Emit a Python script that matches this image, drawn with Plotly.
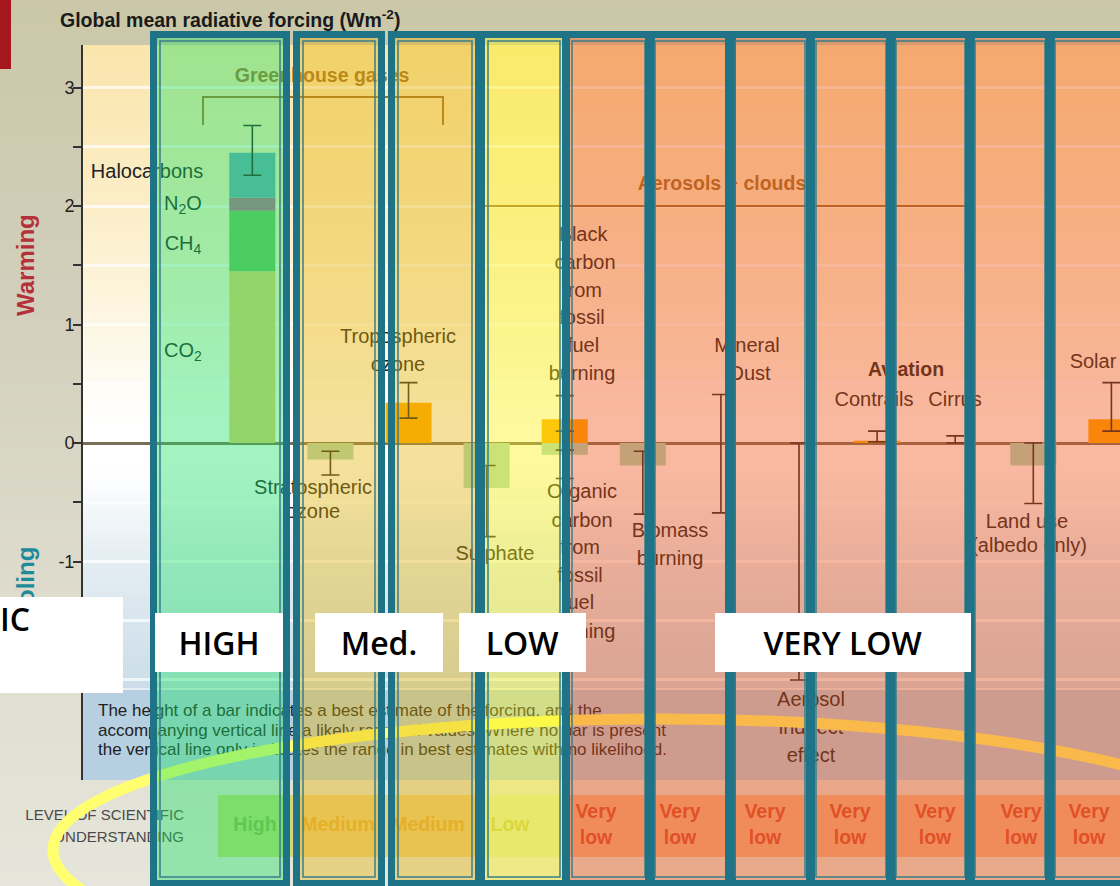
import plotly.graph_objects as go

W, H = 1120, 886

# ---------------- data ----------------
categories = ["Greenhouse gases", "Stratospheric ozone", "Tropospheric ozone", "Sulphate",
              "Fossil fuel carbon", "Biomass burning", "Mineral dust",
              "Aerosol indirect effect", "Contrails", "Aviation-induced cirrus",
              "Land use (albedo)", "Solar"]

ghg_components = ["CO2", "CH4", "N2O", "Halocarbons"]
ghg_values = [1.45, 0.51, 0.11, 0.38]

warming_categories = ["Tropospheric ozone", "Fossil fuel carbon", "Contrails", "Solar"]
warming_values = [0.34, 0.20, 0.02, 0.20]

cooling_categories = ["Stratospheric ozone", "Sulphate", "Fossil fuel carbon",
                      "Biomass burning", "Land use (albedo)"]
cooling_values = [-0.14, -0.38, -0.10, -0.19, -0.19]

range_categories = ["Greenhouse gases", "Stratospheric ozone", "Tropospheric ozone", "Sulphate",
                    "Fossil fuel carbon", "Fossil fuel carbon", "Biomass burning", "Mineral dust",
                    "Aerosol indirect effect", "Contrails", "Aviation-induced cirrus",
                    "Land use (albedo)", "Solar"]
range_low = [2.26, -0.27, 0.21, -0.79, 0.10, -0.30, -0.60, -0.59, -2.00, 0.01, 0.00, -0.51, 0.10]
range_high = [2.68, -0.07, 0.51, -0.19, 0.40, -0.06, -0.07, 0.41, 0.00, 0.10, 0.06, 0.00, 0.51]

losu_labels = ["High", "Medium", "Medium", "Low", "Very<br>low", "Very<br>low", "Very<br>low",
               "Very<br>low", "Very<br>low", "Very<br>low", "Very<br>low"]

y_tick_values = [-2, -1, 0, 1, 2, 3]
y_tick_labels = ["-2", "-1", "0", "1", "2", "3"]
y_minor_values = [-1.5, -0.5, 0.5, 1.5, 2.5]

# ---------------- styling helpers ----------------
SANS = "Liberation Sans, Arial, sans-serif"
BOX_FONT = "Open Sans, Noto Sans, sans-serif"


def X(px):
    return px / W


def Y(py):
    return 1 - py / H


def mix(c0, c1, t):
    return tuple(round(a + (b - a) * t) for a, b in zip(c0, c1))


def gradient_bands(x0, x1, stops, step=5):
    out = []
    for (ya, ca), (yb, cb) in zip(stops[:-1], stops[1:]):
        n = max(1, int((yb - ya) / step))
        for k in range(n):
            t = (k + 0.5) / n
            p0 = ya + (yb - ya) * k / n
            p1 = ya + (yb - ya) * (k + 1) / n + 0.8
            out.append(dict(type="rect", xref="paper", yref="paper",
                            x0=X(x0), x1=X(x1), y0=Y(p1), y1=Y(p0),
                            fillcolor="rgb(%d,%d,%d)" % mix(ca, cb, t),
                            line=dict(width=0), layer="below"))
    return out


def rect(x0, x1, y0, y1, fill, layer="below", line=None):
    return dict(type="rect", xref="paper", yref="paper", x0=X(x0), x1=X(x1), y0=Y(y1), y1=Y(y0),
                fillcolor=fill, line=line or dict(width=0), layer=layer)


def hline(x0, x1, y, color, width, layer="above"):
    return dict(type="line", xref="paper", yref="paper", x0=X(x0), x1=X(x1), y0=Y(y), y1=Y(y),
                line=dict(color=color, width=width), layer=layer)


def vline(x, y0, y1, color, width, layer="above"):
    return dict(type="line", xref="paper", yref="paper", x0=X(x), x1=X(x), y0=Y(y0), y1=Y(y1),
                line=dict(color=color, width=width), layer=layer)


shapes = []
# outer beige page
shapes += gradient_bands(0, W, [(0, (203, 199, 168)), (300, (210, 207, 188)),
                                (600, (222, 220, 205)), (886, (230, 229, 219))], step=8)
# chart panel
shapes += gradient_bands(83, W, [(45, (250, 229, 172)), (200, (251, 237, 198)),
                                 (330, (253, 247, 228)), (425, (255, 255, 255)),
                                 (470, (255, 255, 255)), (560, (228, 237, 243)),
                                 (688, (203, 221, 233))], step=5)
shapes.append(rect(83, W, 688, 780, "rgb(182,207,225)"))
shapes.append(hline(83, W, 689, "rgba(235,242,246,0.9)", 2, layer="below"))
# level of scientific understanding band
losu_cells = [(218, 292, "#c0dc75"), (292, 387, "#eacf83"), (387, 480, "#eacf83"),
              (480, 566, "#dbe2af"), (566, W, "#f0b489")]
for a, b, c in losu_cells:
    shapes.append(rect(a, b, 795, 857, c))
# red slide marker
shapes.append(rect(0, 11, 0, 69, "#a5161f", layer="above"))

# group brackets
GROUP = "#a0702a"
shapes.append(hline(203, 443, 97, GROUP, 2))
shapes.append(vline(203, 96, 125, GROUP, 2))
shapes.append(vline(443, 96, 125, GROUP, 2))
shapes.append(hline(480, 966, 206, GROUP, 2))

# yellow ellipse highlight
shapes.append(dict(type="circle", xref="paper", yref="paper", x0=X(53), x1=X(1267),
                   y0=Y(981), y1=Y(719), line=dict(color="#ffff70", width=11),
                   fillcolor="rgba(0,0,0,0)", layer="above"))

# translucent understanding columns
GREEN = "rgba(24,225,100,0.40)"
MED = "rgba(229,178,0,0.39)"
LOWC = "rgba(250,240,20,0.42)"
VL = "rgba(240,80,20,0.40)"
columns = [(150, 290, GREEN), (293, 385, MED), (388, 482, MED), (478, 570, LOWC),
           (562, 655, VL), (645, 736, VL), (725, 815, VL), (806, 896, VL),
           (886, 975, VL), (965, 1055, VL), (1045, 1135, VL)]
CT, CB = 31, 887
for a, b, c in columns:
    shapes.append(rect(a, b, CT, CB, c, layer="above"))
for a, b, c in columns:
    shapes.append(dict(type="rect", xref="paper", yref="paper",
                       x0=X(a + 3.5), x1=X(b - 3.5), y0=Y(CB - 3.5), y1=Y(CT + 3.5),
                       line=dict(color="#1e7387", width=7), fillcolor="rgba(0,0,0,0)", layer="above"))
    shapes.append(dict(type="rect", xref="paper", yref="paper",
                       x0=X(a + 10), x1=X(b - 10), y0=Y(CB - 10), y1=Y(CT + 10),
                       line=dict(color="#3a7d8a", width=1.5), fillcolor="rgba(0,0,0,0)", layer="above"))

# ---------------- traces ----------------
fig = go.Figure()

ghg_colors = ["#e5cd70", "#6fc062", "#b5678e", "#68a7b7"]
for name, val, col in zip(ghg_components, ghg_values, ghg_colors):
    fig.add_trace(go.Bar(x=[categories[0]], y=[val], name=name,
                         marker=dict(color=col, line=dict(width=0)),
                         showlegend=False, hoverinfo="skip"))
fig.add_trace(go.Bar(x=warming_categories, y=warming_values, name="warming",
                     marker=dict(color="#ffab05", line=dict(width=0)), showlegend=False))
fig.add_trace(go.Bar(x=cooling_categories, y=cooling_values, name="cooling",
                     marker=dict(color="#a9d8bb", line=dict(width=0)), showlegend=False))
fig.add_trace(go.Scatter(
    x=range_categories, y=range_low, mode="markers",
    marker=dict(size=2, color="rgba(0,0,0,0)"),
    error_y=dict(type="data", symmetric=False,
                 array=[h - l for h, l in zip(range_high, range_low)],
                 arrayminus=[0] * len(range_low),
                 color="#262626", thickness=1.6, width=9),
    showlegend=False, hoverinfo="skip"))

# ---------------- text (drawn beneath the translucent columns) ----------------
label_text = ["Halocarbons", "N<sub>2</sub>O", "CH<sub>4</sub>", "CO<sub>2</sub>",
              "Tropospheric", "ozone", "Stratospheric", "ozone", "Sulphate",
              "Black", "carbon", "from", "fossil", "fuel", "burning",
              "Organic", "carbon", "from", "fossil", "fuel", "burning",
              "Biomass", "burning", "Mineral", "Dust", "Contrails", "Cirrus",
              "Land use", "(albedo only)", "Solar", "Aerosol", "indirect", "effect"]
label_x = [147, 183, 183, 183, 398, 398, 313, 313, 495,
           583, 585, 582, 582, 583, 582,
           582, 582, 580, 580, 578, 582,
           670, 670, 747, 750, 874, 955,
           1027, 1029, 1093, 811, 811, 811]
label_y = [173, 205, 245, 352, 338, 366, 489, 513, 555,
           236, 264, 292, 319, 347, 375,
           493, 522, 549, 577, 604, 633,
           532, 560, 347, 375, 401, 401,
           523, 547, 363, 701, 729, 757]

bold_text = ["Greenhouse gases", "Aerosols + clouds", "Aviation"]
bold_x = [322, 722, 906]
bold_y = [77, 185, 371]
bold_colors = [GROUP, GROUP, "#222222"]

caption_text = ["The height of a bar indicates a best estimate of the forcing, and the",
                "accompanying vertical line a likely range of values. Where no bar is present",
                "the vertical line only indicates the range in best estimates with no likelihood."]
caption_x = [98, 98, 98]
caption_y = [712, 732, 751]

losu_title = ["LEVEL OF SCIENTIFIC", "UNDERSTANDING"]
losu_title_x = [184, 184]
losu_title_y = [816, 838]

losu_x = [255, 338, 428, 510, 596, 680, 765, 850, 935, 1021, 1089]
losu_y = [826, 826, 826, 826, 826, 826, 826, 826, 826, 826, 826]
losu_colors = ["#8eb743", "#e7ae42", "#e7ae42", "#c6c559"] + ["#d75035"] * 7


def text_trace(texts, xs, ys, size, colors, weight=400, pos="middle center"):
    return go.Scatter(x=xs, y=ys, text=texts, mode="text", textposition=pos,
                      textfont=dict(family=SANS, size=size, color=colors, weight=weight),
                      xaxis="x2", yaxis="y2", showlegend=False, hoverinfo="skip",
                      cliponaxis=False)


fig.add_trace(text_trace(label_text, label_x, label_y, 20, "#222222"))
fig.add_trace(text_trace(bold_text, bold_x, bold_y, 19.5, bold_colors, weight=700))
fig.add_trace(text_trace(caption_text, caption_x, caption_y, 17, "#222222", pos="middle right"))
fig.add_trace(text_trace(losu_title, losu_title_x, losu_title_y, 15, "#4a4a4a", pos="middle left"))
fig.add_trace(text_trace(losu_labels, losu_x, losu_y, 19.5, losu_colors, weight=700))

# ---------------- annotations ----------------
annotations = [
    dict(x=X(58), y=Y(19), xref="paper", yref="paper", xanchor="left", yanchor="middle",
         text="Global mean radiative forcing (Wm<sup>-2</sup>)", showarrow=False,
         font=dict(family=SANS, size=19.5, color="#1a1a1a", weight=700)),
    dict(x=X(25), y=Y(265), xref="paper", yref="paper", xanchor="center", yanchor="middle",
         text="Warming", textangle=-90,
         showarrow=False, font=dict(family=SANS, size=24, color="#b4303a", weight=700)),
    dict(x=X(25), y=Y(592), xref="paper", yref="paper", xanchor="center", yanchor="middle",
         text="Cooling", textangle=-90,
         showarrow=False, font=dict(family=SANS, size=24, color="#1d8b9b", weight=700)),
]
boxes = [("IC", 0, 123, 597, 693), ("HIGH", 155, 283, 613, 672), ("Med.", 315, 443, 613, 672),
         ("LOW", 459, 586, 613, 672), ("VERY LOW", 715, 971, 613, 672)]
for txt, a, b, t, bt in boxes:
    if txt == "IC":
        annotations.append(dict(x=X(a), y=Y(t), xref="paper", yref="paper", xanchor="left",
                                yanchor="top", text=txt, showarrow=False, bgcolor="white",
                                width=b - a, height=bt - t, align="left", valign="top",
                                borderpad=0, borderwidth=0,
                                font=dict(family=BOX_FONT, size=32, color="black", weight=600)))
    else:
        annotations.append(dict(x=X((a + b) / 2), y=Y((t + bt) / 2), xref="paper", yref="paper",
                                xanchor="center", yanchor="middle", text=txt, showarrow=False,
                                bgcolor="white", width=b - a, height=bt - t,
                                borderpad=0, borderwidth=0,
                                font=dict(family=BOX_FONT, size=32, color="black", weight=600)))

GRID = "rgba(255,255,255,0.7)"
fig.update_layout(
    width=W, height=H, margin=dict(l=0, r=0, t=0, b=0),
    paper_bgcolor="#d9d6c4", plot_bgcolor="rgba(0,0,0,0)",
    barmode="relative", bargap=0.41, showlegend=False,
    xaxis=dict(domain=[X(83), 1], type="category", categoryorder="array",
               categoryarray=categories, range=[-2.168, 11.11], visible=False),
    yaxis=dict(domain=[Y(780), Y(45)], range=[-2.844, 3.359],
               tickvals=y_tick_values, ticktext=y_tick_labels,
               ticks="outside", ticklen=8, tickwidth=1.5, tickcolor="#333",
               ticklabelstandoff=-5,
               showline=True, linecolor="#333", linewidth=2,
               tickfont=dict(family=SANS, size=18, color="#222"),
               showgrid=True, gridcolor=GRID, gridwidth=3,
               zeroline=True, zerolinecolor="#7a6e58", zerolinewidth=3,
               minor=dict(tickvals=y_minor_values, ticks="outside", ticklen=8, tickwidth=1.5,
                          tickcolor="#333", showgrid=True, gridcolor=GRID, gridwidth=3)),
    xaxis2=dict(domain=[0, 1], range=[0, W], visible=False, anchor="y2"),
    yaxis2=dict(domain=[0, 1], range=[H, 0], visible=False, anchor="x2"),
    shapes=shapes, annotations=annotations,
)

fig.write_html("out.html",
               config={"displayModeBar": False},
               post_script="document.body.style.margin='0';document.body.style.padding='0';"
                           "document.body.style.overflow='hidden';")
